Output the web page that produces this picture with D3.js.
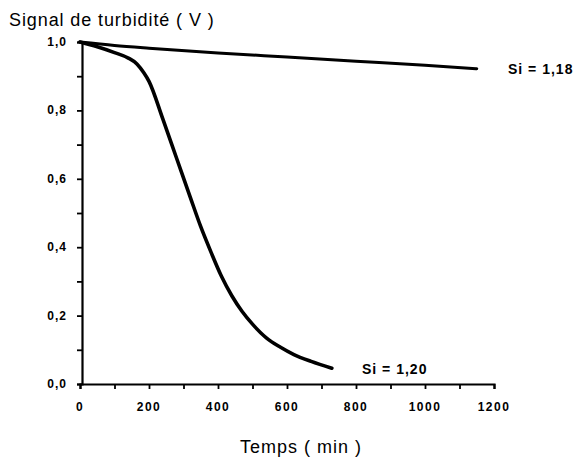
<!DOCTYPE html>
<html>
<head>
<meta charset="utf-8">
<script src="https://cdn.jsdelivr.net/npm/d3@7"></script>
<style>
  body { margin: 0; background: #fff; }
  text { font-family: "Liberation Sans", Arial, sans-serif; fill: #000; }
</style>
</head>
<body>
<div id="chart"></div>
<script>
// Data
const timeSi118 = [0, 100, 200, 400, 600, 800, 1000, 1150];
const signalSi118 = [1.0, 0.99, 0.982, 0.968, 0.956, 0.944, 0.932, 0.922];

const timeSi120 = [0, 50, 100, 140, 165, 185, 200, 240, 280, 320, 350, 380, 410, 440, 470, 500, 540, 580, 620, 670, 730];
const signalSi120 = [1.0, 0.986, 0.969, 0.953, 0.936, 0.91, 0.885, 0.775, 0.66, 0.545, 0.46, 0.385, 0.315, 0.258, 0.212, 0.175, 0.135, 0.108, 0.086, 0.066, 0.046];

const xTicks = [0, 200, 400, 600, 800, 1000, 1200];
const yTicks = [0, 0.2, 0.4, 0.6, 0.8, 1.0];
const seriesLabels = ["Si = 1,18", "Si = 1,20"];

const width = 580;
const height = 466;
const margin = { top: 42, bottom: 82, left: 80, right: 86 };

const svg = d3
  .select("#chart")
  .append("svg")
  .attr("width", width)
  .attr("height", height);

const xScale = d3
  .scaleLinear()
  .domain([0, 1200])
  .range([margin.left, width - margin.right]);

const yScale = d3
  .scaleLinear()
  .domain([0, 1])
  .range([height - margin.bottom, margin.top]);

const fmt = (d) => d3.format(".1f")(d).replace(".", ",");

// Axis

const xAxis = svg
  .append("g")
  .attr("transform", `translate(0, ${yScale(0)})`)
  .call(d3.axisBottom(xScale).tickValues(d3.range(0, 1201, 100)).tickSize(5).tickFormat(""));
xAxis.select(".domain").attr("stroke-width", 2.2);
xAxis.selectAll(".tick line").attr("stroke-width", 1.8);

svg
  .selectAll(".xlabel")
  .data(xTicks)
  .enter()
  .append("text")
  .attr("x", (d) => xScale(d))
  .attr("y", yScale(0) + 27)
  .attr("text-anchor", "middle")
  .attr("font-size", "12px")
  .attr("font-weight", "bold")
  .attr("letter-spacing", "1.5px")
  .text((d) => d);

const yAxis = svg
  .append("g")
  .attr("transform", `translate(${margin.left + 2}, 0)`)
  .call(d3.axisLeft(yScale).tickValues(d3.range(0, 1.01, 0.1)).tickSize(5).tickFormat(""));
yAxis.select(".domain").attr("stroke-width", 2.2);
yAxis.selectAll(".tick line").attr("stroke-width", 1.8);

svg
  .selectAll(".ylabel")
  .data(yTicks)
  .enter()
  .append("text")
  .attr("x", margin.left - 13)
  .attr("y", (d) => yScale(d) + 4)
  .attr("text-anchor", "end")
  .attr("font-size", "12px")
  .attr("font-weight", "bold")
  .attr("letter-spacing", "1px")
  .text(fmt);

svg
  .append("text")
  .attr("x", 9)
  .attr("y", 26)
  .attr("font-size", "18px")
  .attr("letter-spacing", "0.9px")
  .text("Signal de turbidité ( V )");

svg
  .append("text")
  .attr("x", 301)
  .attr("y", 453)
  .attr("text-anchor", "middle")
  .attr("font-size", "18px")
  .attr("letter-spacing", "1px")
  .text("Temps ( min )");

// Curves

const line = d3
  .line()
  .x((d) => xScale(d[0]))
  .y((d) => yScale(d[1]))
  .curve(d3.curveMonotoneX);

svg
  .append("path")
  .datum(d3.zip(timeSi118, signalSi118))
  .attr("fill", "none")
  .attr("stroke", "#000")
  .attr("stroke-width", 3)
  .attr("stroke-linecap", "round")
  .attr("d", line);

svg
  .append("path")
  .datum(d3.zip(timeSi120, signalSi120))
  .attr("fill", "none")
  .attr("stroke", "#000")
  .attr("stroke-width", 3.6)
  .attr("stroke-linecap", "round")
  .attr("d", line);

svg
  .append("text")
  .attr("x", 508)
  .attr("y", 74)
  .attr("font-size", "14px")
  .attr("font-weight", "bold")
  .attr("letter-spacing", "1px")
  .text(seriesLabels[0]);

svg
  .append("text")
  .attr("x", 362)
  .attr("y", 374)
  .attr("font-size", "14px")
  .attr("font-weight", "bold")
  .attr("letter-spacing", "1px")
  .text(seriesLabels[1]);
</script>
</body>
</html>
